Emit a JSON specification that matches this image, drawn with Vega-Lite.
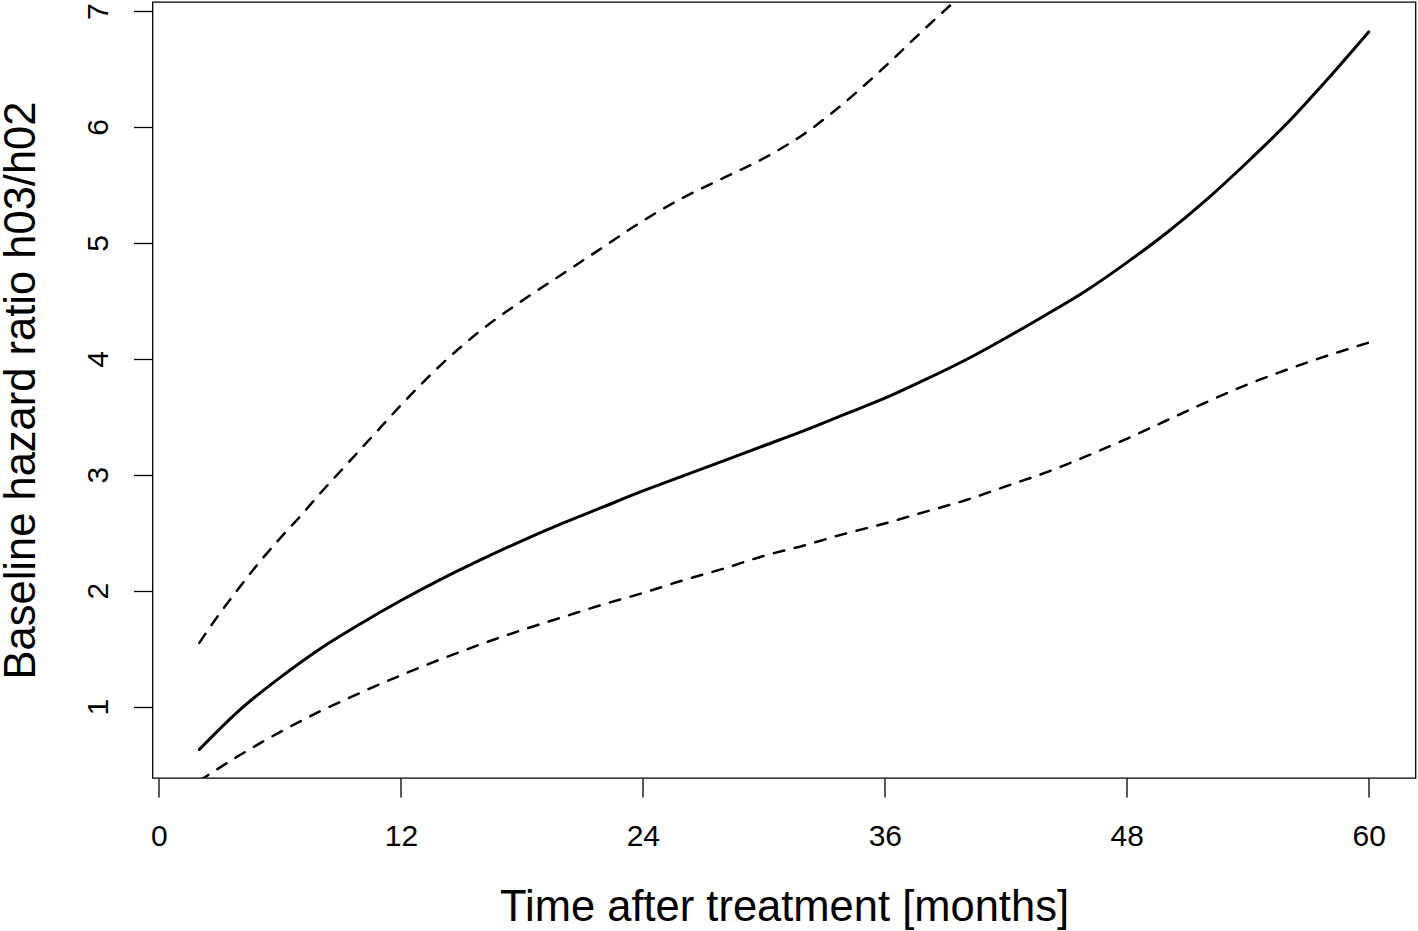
{
  "$schema": "https://vega.github.io/schema/vega-lite/v6.json",
  "width": 1263,
  "height": 776,
  "autosize": {"type": "none"},
  "padding": {"left": 152.5, "top": 2, "right": 2.5, "bottom": 153},
  "background": "white",
  "config": {
    "view": {"stroke": "black", "strokeWidth": 1.3, "fill": "white"},
    "font": "Liberation Sans"
  },
  "data": {
    "values": [
      {"m": 2, "v": 0.63, "s": "est"},
      {"m": 4, "v": 0.97, "s": "est"},
      {"m": 6, "v": 1.25, "s": "est"},
      {"m": 8, "v": 1.50, "s": "est"},
      {"m": 10, "v": 1.715, "s": "est"},
      {"m": 12, "v": 1.915, "s": "est"},
      {"m": 14, "v": 2.10, "s": "est"},
      {"m": 16, "v": 2.27, "s": "est"},
      {"m": 18, "v": 2.43, "s": "est"},
      {"m": 20, "v": 2.58, "s": "est"},
      {"m": 22, "v": 2.72, "s": "est"},
      {"m": 24, "v": 2.86, "s": "est"},
      {"m": 26, "v": 2.99, "s": "est"},
      {"m": 28, "v": 3.12, "s": "est"},
      {"m": 30, "v": 3.25, "s": "est"},
      {"m": 32, "v": 3.38, "s": "est"},
      {"m": 34, "v": 3.52, "s": "est"},
      {"m": 36, "v": 3.66, "s": "est"},
      {"m": 38, "v": 3.82, "s": "est"},
      {"m": 40, "v": 3.99, "s": "est"},
      {"m": 42, "v": 4.18, "s": "est"},
      {"m": 44, "v": 4.38, "s": "est"},
      {"m": 46, "v": 4.59, "s": "est"},
      {"m": 48, "v": 4.83, "s": "est"},
      {"m": 50, "v": 5.09, "s": "est"},
      {"m": 52, "v": 5.38, "s": "est"},
      {"m": 54, "v": 5.70, "s": "est"},
      {"m": 56, "v": 6.04, "s": "est"},
      {"m": 58, "v": 6.42, "s": "est"},
      {"m": 60, "v": 6.82, "s": "est"},
      {"m": 2, "v": 1.55, "s": "upper"},
      {"m": 3, "v": 1.80, "s": "upper"},
      {"m": 4, "v": 2.03, "s": "upper"},
      {"m": 5, "v": 2.25, "s": "upper"},
      {"m": 6, "v": 2.45, "s": "upper"},
      {"m": 7, "v": 2.64, "s": "upper"},
      {"m": 8, "v": 2.84, "s": "upper"},
      {"m": 9, "v": 3.03, "s": "upper"},
      {"m": 10, "v": 3.22, "s": "upper"},
      {"m": 11, "v": 3.41, "s": "upper"},
      {"m": 12, "v": 3.60, "s": "upper"},
      {"m": 13, "v": 3.78, "s": "upper"},
      {"m": 14, "v": 3.95, "s": "upper"},
      {"m": 16, "v": 4.25, "s": "upper"},
      {"m": 18, "v": 4.50, "s": "upper"},
      {"m": 20, "v": 4.73, "s": "upper"},
      {"m": 22, "v": 4.96, "s": "upper"},
      {"m": 24, "v": 5.19, "s": "upper"},
      {"m": 26, "v": 5.39, "s": "upper"},
      {"m": 28, "v": 5.56, "s": "upper"},
      {"m": 30, "v": 5.73, "s": "upper"},
      {"m": 32, "v": 5.94, "s": "upper"},
      {"m": 34, "v": 6.21, "s": "upper"},
      {"m": 36, "v": 6.52, "s": "upper"},
      {"m": 38, "v": 6.85, "s": "upper"},
      {"m": 40, "v": 7.17, "s": "upper"},
      {"m": 42, "v": 7.50, "s": "upper"},
      {"m": 46, "v": 8.20, "s": "upper"},
      {"m": 50, "v": 9.00, "s": "upper"},
      {"m": 55, "v": 10.2, "s": "upper"},
      {"m": 60, "v": 11.5, "s": "upper"},
      {"m": 2, "v": 0.36, "s": "lower"},
      {"m": 4, "v": 0.58, "s": "lower"},
      {"m": 6, "v": 0.78, "s": "lower"},
      {"m": 8, "v": 0.96, "s": "lower"},
      {"m": 10, "v": 1.12, "s": "lower"},
      {"m": 12, "v": 1.27, "s": "lower"},
      {"m": 14, "v": 1.41, "s": "lower"},
      {"m": 16, "v": 1.54, "s": "lower"},
      {"m": 18, "v": 1.66, "s": "lower"},
      {"m": 20, "v": 1.77, "s": "lower"},
      {"m": 22, "v": 1.88, "s": "lower"},
      {"m": 24, "v": 1.98, "s": "lower"},
      {"m": 26, "v": 2.09, "s": "lower"},
      {"m": 28, "v": 2.19, "s": "lower"},
      {"m": 30, "v": 2.30, "s": "lower"},
      {"m": 32, "v": 2.39, "s": "lower"},
      {"m": 34, "v": 2.49, "s": "lower"},
      {"m": 36, "v": 2.58, "s": "lower"},
      {"m": 38, "v": 2.68, "s": "lower"},
      {"m": 40, "v": 2.78, "s": "lower"},
      {"m": 42, "v": 2.90, "s": "lower"},
      {"m": 44, "v": 3.02, "s": "lower"},
      {"m": 46, "v": 3.16, "s": "lower"},
      {"m": 48, "v": 3.31, "s": "lower"},
      {"m": 50, "v": 3.47, "s": "lower"},
      {"m": 52, "v": 3.63, "s": "lower"},
      {"m": 54, "v": 3.78, "s": "lower"},
      {"m": 56, "v": 3.91, "s": "lower"},
      {"m": 58, "v": 4.03, "s": "lower"},
      {"m": 60, "v": 4.14, "s": "lower"}
    ]
  },
  "encoding": {
    "x": {
      "field": "m",
      "type": "quantitative",
      "scale": {"domain": [-0.32, 62.32], "nice": false, "zero": false},
      "axis": {
        "values": [0, 12, 24, 36, 48, 60],
        "grid": false,
        "domain": false,
        "ticks": true,
        "tickSize": 19,
        "tickWidth": 1.3,
        "tickColor": "black",
        "labelFont": "Liberation Sans",
        "labelFontSize": 30,
        "labelColor": "black",
        "labelBaseline": "alphabetic",
        "labelPadding": 48,
        "labelFlush": false,
        "labelOverlap": false,
        "title": "Time after treatment [months]",
        "titleFont": "Liberation Sans",
        "titleFontSize": 43.5,
        "titleFontWeight": "normal",
        "titleColor": "black",
        "titleBaseline": "alphabetic",
        "titleY": 142
      }
    },
    "y": {
      "field": "v",
      "type": "quantitative",
      "scale": {"domain": [0.384, 7.078], "nice": false, "zero": false},
      "axis": {
        "values": [1, 2, 3, 4, 5, 6, 7],
        "grid": false,
        "domain": false,
        "ticks": true,
        "tickSize": 19,
        "tickWidth": 1.3,
        "tickColor": "black",
        "labelFont": "Liberation Sans",
        "labelFontSize": 30,
        "labelColor": "black",
        "labelAngle": 270,
        "labelAlign": "center",
        "labelBaseline": "alphabetic",
        "labelPadding": 25.7,
        "labelFlush": false,
        "labelOverlap": false,
        "title": "Baseline hazard ratio h03/h02",
        "titleFont": "Liberation Sans",
        "titleFontSize": 43.5,
        "titleFontWeight": "normal",
        "titleColor": "black",
        "titleAngle": 270,
        "titleBaseline": "alphabetic",
        "titleX": -118.5
      }
    }
  },
  "layer": [
    {
      "transform": [{"filter": "datum.s === 'est'"}],
      "mark": {"type": "line", "color": "black", "strokeWidth": 3, "strokeCap": "round", "interpolate": "monotone", "clip": true}
    },
    {
      "transform": [{"filter": "datum.s === 'upper'"}],
      "mark": {"type": "line", "color": "black", "strokeWidth": 2.5, "strokeCap": "round", "strokeDash": [10.7, 10.7], "interpolate": "monotone", "clip": true}
    },
    {
      "transform": [{"filter": "datum.s === 'lower'"}],
      "mark": {"type": "line", "color": "black", "strokeWidth": 2.5, "strokeCap": "round", "strokeDash": [10.7, 10.7], "interpolate": "monotone", "clip": true}
    }
  ]
}
